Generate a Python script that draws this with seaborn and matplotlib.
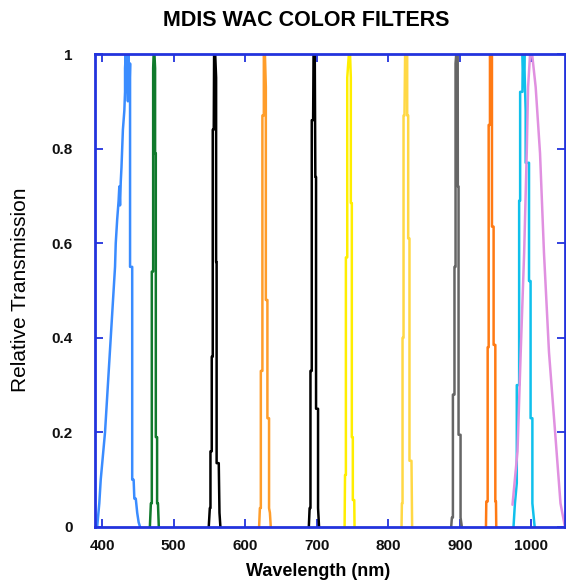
import matplotlib
matplotlib.use("Agg")
import matplotlib.pyplot as plt
import seaborn as sns
import pandas as pd

# ---- data (wavelength nm, relative transmission) ----
blue_wl = [393, 396, 398, 401, 404, 406, 408, 410, 412, 414, 416, 418, 419, 421, 423, 424, 425, 426, 427, 428,
           429, 431, 432, 432, 433, 434, 435, 436, 437, 438, 439, 439, 442, 442, 444, 445, 447, 449, 451, 453]
blue_t = [0, 0.05, 0.1, 0.15, 0.2, 0.25, 0.3, 0.35, 0.4, 0.45, 0.5, 0.55, 0.6, 0.65, 0.69, 0.72, 0.68, 0.73, 0.76, 0.8,
          0.84, 0.88, 0.92, 0.97, 1.0, 0.92, 0.99, 0.9, 1.0, 0.91, 0.98, 0.55, 0.55, 0.1, 0.1, 0.06, 0.06, 0.03, 0.01, 0]

green_wl = [466.7, 468.1, 469.4, 469.4, 471.3, 471.3, 472, 473.1, 474, 474, 475, 475, 476.8, 476.8, 478, 479.2]
green_t = [0, 0.05, 0.05, 0.54, 0.54, 0.97, 1.0, 1.0, 0.97, 0.79, 0.79, 0.19, 0.19, 0.05, 0.05, 0]

k560_wl = [549, 550.5, 551.4, 551.4, 553.2, 553.2, 554.6, 554.6, 556, 556.5, 558, 559.3, 559.3, 560, 560, 563, 564, 565.3]
k560_t = [0, 0.04, 0.04, 0.16, 0.16, 0.36, 0.36, 0.84, 0.84, 1.0, 1.0, 0.95, 0.56, 0.56, 0.135, 0.135, 0.03, 0]

o630_wl = [619.4, 620.5, 621.8, 621.8, 624, 624, 626, 626, 627.5, 628.8, 628.8, 631, 631, 633.3, 633.3, 634.5, 635.7]
o630_t = [0, 0.04, 0.04, 0.33, 0.33, 0.87, 0.87, 1.0, 1.0, 0.93, 0.48, 0.48, 0.23, 0.23, 0.04, 0.03, 0]

k700_wl = [688.9, 690, 691.2, 691.2, 693, 693, 694.9, 695.5, 697.2, 698, 699, 699, 701.8, 701.8, 703.2]
k700_t = [0, 0.04, 0.04, 0.33, 0.33, 0.86, 0.86, 1.0, 1.0, 0.74, 0.74, 0.25, 0.25, 0.04, 0]

y750_wl = [738.9, 739.5, 740.7, 740.7, 742.6, 742.6, 744.9, 746.5, 747.6, 747.6, 749, 749, 750.4, 750.4, 752.4, 752.8]
y750_t = [0, 0.11, 0.11, 0.57, 0.57, 0.95, 1.0, 1.0, 0.95, 0.685, 0.685, 0.19, 0.19, 0.057, 0.057, 0]

g830_wl = [818.5, 819, 819.9, 819.9, 821.3, 821.3, 822.6, 823.5, 826.4, 826.4, 827.8, 827.8, 829.6, 829.6, 832.4, 833.3]
g830_t = [0, 0.05, 0.05, 0.40, 0.40, 0.87, 0.87, 1.0, 1.0, 0.87, 0.87, 0.61, 0.61, 0.14, 0.14, 0]

s900_wl = [887.9, 888.9, 890.3, 890.3, 892.5, 892.5, 894, 894, 895, 897, 897.2, 898.2, 898.2, 901, 901, 902.8]
s900_t = [0, 0.02, 0.02, 0.28, 0.28, 0.55, 0.55, 0.98, 1.0, 1.0, 0.72, 0.72, 0.195, 0.195, 0.02, 0]

o950_wl = [936.5, 937, 938.9, 938.9, 940.3, 940.3, 942.1, 942.1, 944.9, 944.9, 947.2, 947.2, 949.6, 949.6, 950.5, 950.9]
o950_t = [0, 0.054, 0.054, 0.38, 0.38, 0.85, 0.85, 1.0, 1.0, 0.635, 0.635, 0.385, 0.385, 0.054, 0.054, 0]

c1000_wl = [975, 977, 979.6, 979.6, 982.9, 982.9, 984.3, 984.3, 987.5, 988, 989, 990, 990.7, 992, 992, 996.7, 996.7,
            998.9, 998.9, 1001.4, 1001.4, 1004.6]
c1000_t = [0, 0.05, 0.093, 0.3, 0.3, 0.69, 0.69, 0.92, 0.92, 1.0, 0.95, 1.0, 0.95, 0.88, 0.77, 0.77, 0.52,
           0.52, 0.23, 0.23, 0.05, 0]

v1000_wl = [973.6, 980.6, 985.1, 989.9, 993.5, 995.4, 998.2, 1001, 1006, 1012.1, 1017.6, 1024.6, 1033.7, 1040.7, 1047]
v1000_t = [0.047, 0.16, 0.37, 0.58, 0.79, 0.93, 1.0, 1.0, 0.93, 0.79, 0.58, 0.37, 0.19, 0.05, 0.0]

filters = ["430", "480", "560", "630", "700", "750", "830", "900", "950", "1000", "1010"]
wls = [blue_wl, green_wl, k560_wl, o630_wl, k700_wl, y750_wl, g830_wl, s900_wl, o950_wl, c1000_wl, v1000_wl]
tts = [blue_t, green_t, k560_t, o630_t, k700_t, y750_t, g830_t, s900_t, o950_t, c1000_t, v1000_t]
colors = ["#3a8cff", "#107a2c", "#000000", "#ff9d2a", "#000000", "#ffee00", "#ffd845",
          "#666666", "#ff7a14", "#10c0ec", "#e090e0"]

rows = []
for f, w, t in zip(filters, wls, tts):
    for i, (a, b) in enumerate(zip(w, t)):
        rows.append({"filter": f, "order": i, "wl": a, "t": b})
df = pd.DataFrame(rows)

sns.set_style("white")
plt.rcParams['font.family'] = ['Liberation Sans', 'DejaVu Sans']

fig = plt.figure(figsize=(5.66, 5.82), dpi=100)
ax = fig.add_axes([95 / 566, 1 - 527 / 582, 470 / 566, 473 / 582])

sns.lineplot(data=df, x="wl", y="t", hue="filter", units="filter", estimator=None, sort=False,
             palette=dict(zip(filters, colors)), hue_order=filters, linewidth=1.8, legend=False, ax=ax)
ax.set_xlim(390, 1047)
ax.set_ylim(0, 1)

spine_c = "#2233dd"
for s in ax.spines.values():
    s.set_color(spine_c)
    s.set_linewidth(2)
    s.set_visible(True)

ax.set_xticks([400, 500, 600, 700, 800, 900, 1000])
ax.set_yticks([0, 0.2, 0.4, 0.6, 0.8, 1])
ax.set_yticklabels(["0", "0.2", "0.4", "0.6", "0.8", "1"])
ax.tick_params(axis="both", direction="in", length=6, width=1.3, color=spine_c,
               top=True, right=True, bottom=True, left=True, labelsize=11)
ax.tick_params(axis="x", pad=9)
ax.tick_params(axis="y", pad=16)
for lab in ax.get_xticklabels() + ax.get_yticklabels():
    lab.set_fontweight("bold")
    lab.set_color("#111111")

ax.set_xlabel("")
ax.set_ylabel("")
fig.text(318 / 566, 1 - 571 / 582, "Wavelength (nm)", fontsize=13, fontweight="bold",
         ha="center", va="center", color="black")
fig.text(21 / 566, 1 - 290 / 582, "Relative Transmission", fontsize=15, rotation=90,
         ha="center", va="center", color="black")
fig.text(306 / 566, 1 - 20 / 582, "MDIS WAC COLOR FILTERS", fontsize=15.5, fontweight="bold",
         ha="center", va="center", color="black")

fig.savefig("out.png", dpi=100, facecolor="white")
